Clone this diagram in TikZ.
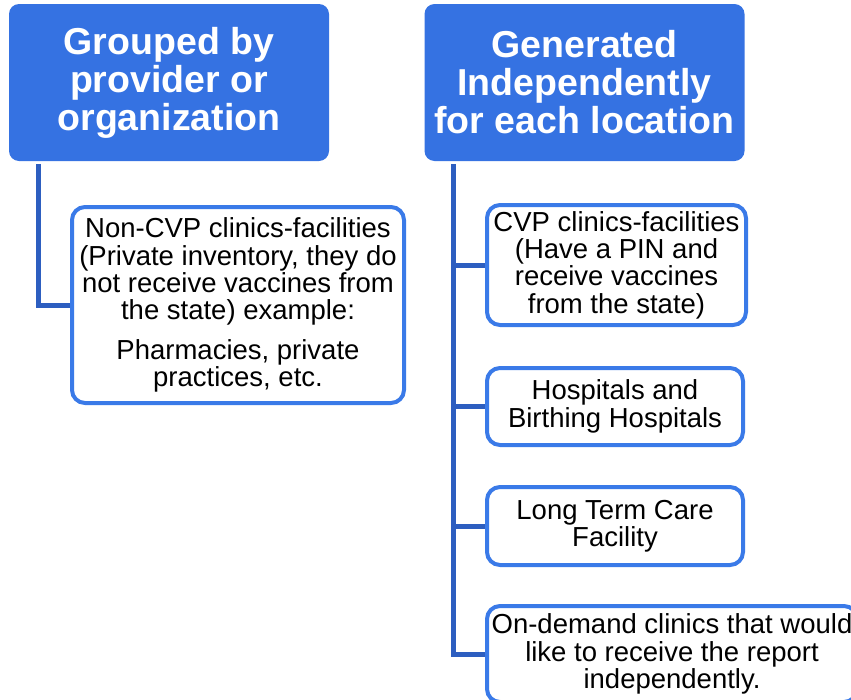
\documentclass[tikz,border=0pt]{standalone}
\usepackage{fontspec}
\setmainfont{Liberation Sans}
\usetikzlibrary{positioning,calc}
\definecolor{headblue}{RGB}{53,114,226}
\definecolor{boxblue}{RGB}{58,122,232}
\definecolor{linkblue}{RGB}{45,94,192}
\tikzset{
  head/.style={fill=headblue,rounded corners=10pt,text=white,align=center,inner sep=0pt,
    minimum width=320pt,minimum height=157pt,font=\fontsize{37.5}{38}\selectfont\bfseries},
  leaf/.style={draw=boxblue,line width=4pt,rounded corners=13pt,fill=white,align=center,
    inner sep=0pt,font=\fontsize{27.5}{27.3}\selectfont},
  link/.style={draw=linkblue,line width=5pt}
}
\begin{document}
\begin{tikzpicture}[x=1pt,y=-1pt]
      \useasboundingbox (0,0) rectangle (851,699);
      \clip (0,0) rectangle (851,699);

      \coordinate (g) at (169,82.5);
      \coordinate (i) at (584.5,82.5);
      \coordinate (n) at (238,305);
      \coordinate (c) at (616.5,265);
      \coordinate (h) at (615,406.5);
      \coordinate (l) at (615,526);
      \coordinate (o) at (672,654);

      \node[head] (gn) at (g) {Grouped by\\provider or\\organization};
      \node[head] (in) at (i) {Generated\\Independently\\for each location};

      \node[leaf,minimum width=332pt,minimum height=196pt] (nn) at (n)
        {Non-CVP clinics-facilities\\(Private inventory, they do\\not receive vaccines from\\the state) example:\\[12pt]
         Pharmacies, private\\practices, etc.};
      \node[leaf,minimum width=259pt,minimum height=120pt] (cn) at (c)
        {CVP clinics-facilities\\(Have a PIN and\\receive vaccines\\from the state)};
      \node[leaf,minimum width=256pt,minimum height=77pt] (hn) at (h)
        {Hospitals and\\Birthing Hospitals};
      \node[leaf,minimum width=256pt,minimum height=78pt] (ln) at (l)
        {Long Term Care\\Facility};
      \node[leaf,minimum width=370pt,minimum height=96pt] (on) at (o)
        {On-demand clinics that would\\like to receive the report\\independently.};

      \coordinate (gt) at ($(gn.south west)+(30,3)$);
      \coordinate (it) at ($(in.south west)+(29,3)$);
      \draw[link] (gt) |- (nn.west);
      \foreach \k in {cn,hn,ln,on}
        \draw[link] (it) |- (\k.west);
\end{tikzpicture}
\end{document}
